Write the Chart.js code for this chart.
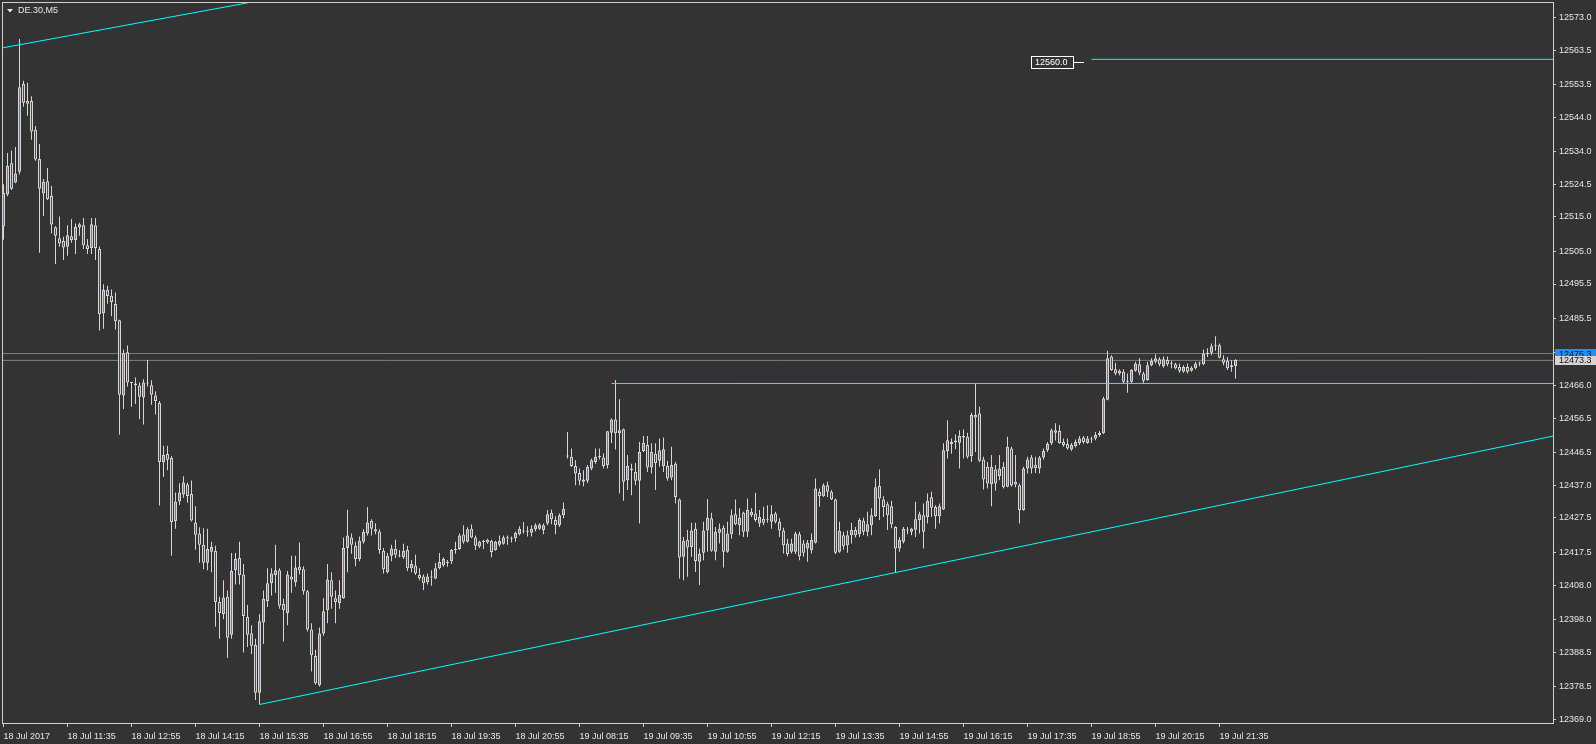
<!DOCTYPE html>
<html>
<head>
<meta charset="utf-8">
<script src="https://cdn.jsdelivr.net/npm/chart.js@4.4.1/dist/chart.umd.min.js"></script>
<style>
  html, body { margin: 0; padding: 0; background: #333333; }
  #wrap { width: 1596px; height: 744px; }
</style>
</head>
<body>
<div id="wrap"><canvas id="chart" width="1596" height="744"></canvas></div>
<script>
// DE.30 M5, 18-19 Jul 2017
const symbolName = 'DE.30,M5';

const timeLabels = ['18 Jul 2017', '18 Jul 11:35', '18 Jul 12:55', '18 Jul 14:15', '18 Jul 15:35',
  '18 Jul 16:55', '18 Jul 18:15', '18 Jul 19:35', '18 Jul 20:55', '19 Jul 08:15', '19 Jul 09:35',
  '19 Jul 10:55', '19 Jul 12:15', '19 Jul 13:35', '19 Jul 14:55', '19 Jul 16:15', '19 Jul 17:35',
  '19 Jul 18:55', '19 Jul 20:15', '19 Jul 21:35'];
const timeTickIdx = [0, 16, 32, 48, 64, 80, 96, 112, 128, 144, 160, 176, 192, 208, 224, 240, 256, 272, 288, 304];

const priceTicks = [12369.0, 12378.5, 12388.5, 12398.0, 12408.0, 12417.5, 12427.5, 12437.0, 12446.5,
  12456.5, 12466.0, 12475.5, 12485.5, 12495.5, 12505.0, 12515.0, 12524.5, 12534.0, 12544.0, 12553.5,
  12563.5, 12573.0];

const opens = [
  12512.2,12521.5,12530.6,12525.0,12528.1,12553.6,12548.7,12548.7,12540.3,12531.8,
  12521.8,12525.4,12521.1,12512.0,12508.8,12508.0,12506.3,12509.4,12508.3,12511.9,
  12512.6,12506.8,12506.0,12512.6,12505.7,12487.0,12493.8,12492.1,12489.7,12485.0,
  12463.1,12475.7,12466.9,12466.6,12466.0,12462.5,12466.6,12466.1,12463.1,12460.9,
  12443.8,12446.1,12444.9,12426.6,12432.3,12434.3,12437.2,12434.5,12426.2,12423.0,
  12419.7,12414.5,12417.7,12417.9,12403.1,12399.6,12404.6,12393.6,12412.3,12415.9,
  12411.1,12398.7,12393.9,12390.6,12376.7,12397.1,12403.4,12408.5,12410.9,12412.3,
  12402.5,12399.9,12410.5,12408.8,12413.3,12412.6,12406.2,12395.1,12387.4,12378.9,
  12393.9,12400.7,12409.4,12404.2,12402.8,12404.2,12418.8,12421.8,12419.4,12415.6,
  12420.6,12423.0,12426.6,12424.2,12423.6,12418.0,12411.7,12416.5,12418.5,12416.5,
  12416.1,12418.2,12412.9,12413.7,12410.9,12410.5,12408.8,12410.2,12409.9,12412.9,
  12413.7,12414.5,12414.9,12418.2,12418.5,12422.7,12420.6,12424.4,12421.8,12419.2,
  12420.6,12421.2,12420.9,12418.2,12419.7,12420.0,12421.6,12421.6,12421.6,12422.8,
  12423.6,12423.6,12423.2,12424.2,12424.4,12424.0,12425.9,12429.0,12426.9,12425.4,
  12428.3,12445.6,12445.3,12442.6,12440.6,12438.0,12438.3,12441.9,12443.8,12445.3,
  12445.1,12442.9,12452.3,12456.1,12452.1,12453.3,12438.5,12441.9,12440.9,12438.3,
  12447.0,12448.7,12442.2,12446.2,12444.1,12442.6,12442.6,12439.3,12443.3,12432.9,
  12416.2,12421.2,12419.1,12424.4,12414.8,12417.4,12423.9,12427.4,12417.7,12423.2,
  12424.7,12417.7,12422.8,12428.6,12425.4,12429.0,12423.5,12428.3,12428.8,12425.9,
  12427.3,12427.1,12426.4,12428.8,12426.4,12423.9,12420.1,12417.7,12417.7,12422.8,
  12420.1,12418.6,12418.1,12420.3,12435.1,12433.8,12437.0,12435.1,12432.9,12417.7,
  12422.5,12419.6,12422.5,12424.0,12422.8,12426.7,12423.5,12425.4,12428.0,12436.8,
  12432.9,12431.5,12430.9,12424.9,12418.6,12420.6,12423.9,12423.5,12424.1,12426.9,
  12428.3,12427.8,12433.5,12430.7,12428.0,12430.0,12447.0,12449.0,12449.6,12449.4,
  12450.9,12451.1,12445.5,12456.7,12457.9,12444.5,12442.4,12437.3,12441.6,12439.7,
  12442.4,12436.6,12447.7,12438.0,12437.0,12429.8,12441.9,12445.1,12443.0,12441.9,
  12445.1,12447.2,12449.2,12453.0,12452.8,12449.6,12449.0,12447.4,12448.4,12449.3,
  12450.9,12449.3,12450.3,12450.6,12451.6,12452.1,12461.9,12474.4,12470.7,12469.5,
  12470.0,12467.1,12467.1,12470.3,12472.2,12469.5,12467.6,12471.9,12472.9,12473.6,
  12471.6,12473.4,12472.4,12472.2,12471.4,12470.0,12471.4,12470.3,12471.0,12472.4,
  12472.2,12475.1,12475.5,12477.4,12477.7,12473.6,12473.2,12471.9,12471.6
];
const highs = [
  12524.5,12533.6,12534.3,12535.3,12566.7,12554.6,12554.0,12550.1,12541.4,12536.2,
  12526.0,12529.2,12524.0,12512.3,12515.1,12509.2,12512.6,12514.4,12513.1,12513.3,
  12514.7,12508.6,12514.7,12514.7,12506.4,12495.4,12495.0,12493.9,12493.0,12485.1,
  12476.4,12477.6,12467.0,12468.3,12466.9,12467.8,12473.4,12467.5,12464.3,12461.5,
  12448.5,12448.5,12445.5,12434.9,12437.6,12439.6,12437.8,12438.4,12430.9,12424.8,
  12424.5,12424.4,12420.6,12419.4,12404.6,12409.4,12406.4,12417.3,12417.3,12420.6,
  12414.1,12402.2,12396.3,12392.4,12399.5,12406.4,12412.9,12412.9,12419.7,12412.9,
  12404.0,12412.1,12416.5,12416.5,12420.4,12413.5,12406.6,12396.9,12389.2,12395.7,
  12404.2,12414.1,12411.7,12406.4,12409.4,12421.8,12429.9,12423.0,12420.6,12422.1,
  12424.2,12430.7,12427.1,12426.0,12424.2,12418.8,12417.3,12419.7,12421.2,12418.2,
  12420.0,12419.4,12415.3,12416.8,12412.9,12411.1,12411.4,12412.3,12414.4,12417.3,
  12416.1,12415.3,12418.5,12420.6,12423.0,12425.4,12424.8,12425.6,12422.4,12420.9,
  12421.2,12421.5,12421.2,12420.9,12422.4,12422.4,12422.4,12422.1,12423.6,12425.1,
  12426.3,12425.1,12425.4,12426.0,12426.0,12425.9,12429.8,12430.0,12428.0,12428.8,
  12432.0,12452.5,12447.7,12444.3,12441.9,12441.4,12442.9,12444.8,12447.7,12447.7,
  12446.3,12452.8,12456.4,12467.6,12462.0,12453.5,12445.8,12443.3,12443.5,12449.6,
  12451.3,12451.3,12449.2,12449.2,12450.6,12450.9,12444.1,12448.2,12443.8,12433.2,
  12422.0,12424.0,12426.1,12426.1,12418.6,12426.4,12433.0,12429.0,12424.9,12425.9,
  12425.4,12426.4,12430.0,12432.9,12430.3,12429.3,12433.2,12430.3,12434.8,12429.8,
  12430.8,12431.2,12431.2,12429.3,12427.4,12424.7,12421.5,12421.5,12423.5,12423.5,
  12421.1,12421.1,12423.0,12439.0,12436.1,12437.5,12438.0,12435.6,12433.2,12426.4,
  12423.5,12423.9,12426.1,12424.9,12427.4,12427.6,12429.3,12430.3,12439.0,12441.6,
  12433.8,12432.2,12432.5,12425.1,12422.0,12424.9,12424.9,12424.7,12432.2,12429.3,
  12431.7,12434.6,12435.1,12431.2,12431.7,12449.2,12455.9,12450.6,12451.8,12453.0,
  12453.2,12452.3,12458.1,12466.6,12459.8,12445.3,12443.8,12445.8,12442.9,12445.8,
  12443.8,12451.1,12448.2,12445.8,12437.5,12442.4,12445.3,12445.8,12445.3,12445.5,
  12447.7,12449.6,12453.5,12455.0,12454.5,12450.6,12450.6,12449.3,12450.3,12451.3,
  12451.3,12451.3,12451.1,12452.5,12452.8,12462.7,12476.1,12474.8,12472.6,12470.7,
  12470.7,12469.5,12470.7,12472.9,12473.9,12470.0,12472.9,12473.9,12475.1,12474.2,
  12474.4,12474.4,12473.2,12472.6,12472.4,12471.9,12472.4,12471.6,12472.9,12472.9,
  12476.5,12476.8,12478.2,12480.3,12478.2,12474.8,12474.3,12473.4,12473.6
];
const lows = [
  12508.4,12521.0,12522.8,12524.8,12527.3,12547.0,12544.4,12537.4,12531.3,12504.6,
  12515.3,12519.9,12510.2,12501.3,12506.3,12502.5,12503.7,12507.5,12504.2,12509.5,
  12505.7,12504.2,12504.2,12502.5,12482.0,12482.5,12489.8,12486.1,12482.3,12451.7,
  12459.2,12465.7,12459.8,12460.6,12456.2,12454.7,12465.7,12460.4,12457.6,12431.1,
  12439.4,12441.4,12416.5,12424.4,12431.3,12433.4,12431.9,12426.5,12418.3,12414.5,
  12412.6,12412.3,12411.7,12395.9,12392.4,12398.1,12386.8,12392.4,12408.2,12408.2,
  12388.4,12390.0,12388.0,12374.6,12373.3,12390.9,12401.6,12405.0,12405.8,12401.1,
  12391.6,12396.3,12405.8,12407.6,12411.1,12405.2,12394.5,12382.9,12379.1,12378.5,
  12393.3,12396.9,12401.1,12396.9,12401.1,12404.0,12411.7,12417.1,12413.5,12414.9,
  12420.0,12422.4,12422.4,12422.8,12417.1,12411.4,12411.4,12414.9,12415.9,12416.1,
  12415.6,12412.1,12411.7,12410.9,12409.4,12406.6,12408.2,12407.8,12409.7,12412.6,
  12413.3,12413.3,12414.1,12417.1,12418.2,12420.0,12420.4,12421.6,12418.2,12418.8,
  12418.5,12420.0,12416.1,12418.0,12419.2,12419.7,12419.7,12420.4,12420.6,12422.4,
  12423.0,12422.1,12422.1,12423.6,12424.0,12422.8,12425.4,12425.7,12422.8,12424.9,
  12427.4,12444.8,12442.3,12437.0,12437.0,12436.7,12437.7,12441.4,12443.3,12444.5,
  12441.9,12441.9,12449.3,12447.4,12434.6,12432.5,12435.6,12434.1,12437.0,12425.9,
  12446.7,12440.9,12440.4,12435.6,12442.4,12440.9,12438.3,12438.5,12431.7,12409.9,
  12409.4,12410.4,12416.2,12411.8,12408.0,12415.2,12417.7,12417.7,12415.2,12420.1,
  12413.1,12417.4,12421.5,12425.4,12422.5,12422.0,12422.0,12427.8,12426.4,12424.9,
  12425.4,12426.1,12424.4,12425.9,12422.0,12417.2,12416.4,12417.2,12417.0,12415.2,
  12416.2,12414.8,12417.2,12420.1,12430.8,12433.6,12433.6,12432.7,12417.0,12417.4,
  12418.3,12417.4,12420.1,12421.8,12422.0,12422.5,12422.2,12422.5,12427.8,12426.9,
  12427.8,12424.0,12424.5,12411.8,12417.7,12420.1,12422.8,12422.5,12422.0,12423.0,
  12418.6,12425.9,12427.8,12424.4,12425.9,12429.8,12444.8,12446.2,12447.5,12441.9,
  12444.8,12444.8,12443.8,12446.7,12443.8,12435.8,12436.1,12430.9,12435.4,12438.5,
  12436.1,12436.4,12436.6,12436.4,12425.9,12429.6,12440.4,12440.4,12440.6,12440.4,
  12444.5,12446.7,12448.7,12450.0,12449.1,12448.2,12447.4,12447.0,12448.0,12448.7,
  12449.1,12449.1,12449.3,12450.1,12451.1,12451.9,12461.7,12470.3,12469.0,12469.0,
  12466.6,12463.9,12466.6,12470.0,12469.0,12466.6,12467.4,12471.6,12472.4,12471.6,
  12471.2,12471.6,12471.0,12470.7,12469.7,12469.7,12469.5,12470.0,12470.7,12471.6,
  12471.9,12474.3,12474.8,12476.1,12473.9,12471.9,12470.5,12470.0,12468.0
];
const closes = [
  12522.0,12529.8,12523.2,12527.6,12552.7,12548.2,12547.9,12539.8,12531.7,12523.2,
  12525.2,12520.1,12512.8,12509.5,12507.3,12506.1,12509.7,12508.3,12512.1,12512.9,
  12506.8,12505.7,12512.9,12506.0,12486.7,12493.8,12492.0,12490.3,12484.7,12463.3,
  12475.4,12466.9,12466.7,12466.1,12462.7,12466.9,12466.9,12463.3,12461.5,12443.8,
  12445.8,12444.4,12426.3,12432.3,12434.9,12437.8,12433.9,12426.8,12422.6,12419.7,
  12414.5,12418.5,12419.1,12403.1,12399.9,12404.4,12392.7,12412.1,12415.6,12410.9,
  12399.0,12393.6,12390.4,12376.7,12397.5,12404.0,12408.5,12411.4,12412.3,12402.0,
  12400.7,12411.1,12409.6,12413.1,12412.3,12406.2,12395.1,12387.6,12379.5,12393.9,
  12400.4,12409.6,12404.6,12403.1,12405.2,12418.8,12422.4,12419.7,12415.6,12420.9,
  12423.4,12426.2,12424.4,12423.6,12418.2,12412.6,12416.5,12418.6,12416.8,12416.3,
  12418.0,12412.9,12414.1,12411.4,12410.0,12408.5,12410.5,12410.3,12412.9,12414.7,
  12415.6,12414.4,12418.2,12418.4,12422.4,12420.6,12424.2,12421.8,12419.4,12420.6,
  12420.5,12420.4,12417.6,12420.6,12420.9,12421.8,12421.7,12421.5,12423.2,12424.4,
  12423.7,12423.5,12424.4,12425.4,12425.6,12425.4,12428.6,12427.1,12425.4,12428.3,
  12430.2,12445.4,12442.6,12440.4,12438.3,12438.7,12442.4,12444.3,12445.3,12445.2,
  12442.6,12452.7,12456.1,12452.1,12453.0,12438.0,12442.6,12441.4,12438.3,12446.7,
  12449.4,12442.2,12446.7,12443.5,12447.2,12447.5,12439.0,12442.9,12433.6,12416.0,
  12420.9,12418.9,12423.9,12415.0,12417.0,12423.9,12427.6,12418.0,12423.5,12424.4,
  12417.7,12423.0,12428.3,12425.7,12427.6,12423.5,12429.8,12429.3,12426.9,12427.8,
  12426.1,12427.0,12428.6,12426.4,12423.9,12419.6,12417.0,12420.1,12423.0,12416.4,
  12417.4,12420.3,12421.1,12436.1,12433.8,12437.0,12435.1,12432.9,12417.4,12423.8,
  12419.3,12422.5,12424.0,12422.5,12426.9,12423.5,12425.7,12428.3,12436.4,12433.2,
  12430.7,12428.3,12425.7,12418.6,12421.1,12424.4,12424.0,12424.4,12427.1,12428.6,
  12423.5,12432.5,12430.5,12428.0,12430.9,12447.2,12450.1,12449.6,12450.0,12451.3,
  12451.3,12445.3,12457.4,12457.4,12444.1,12438.7,12437.5,12442.4,12437.5,12441.9,
  12436.4,12448.2,12437.0,12437.2,12429.8,12441.9,12444.5,12441.9,12442.0,12445.1,
  12447.0,12449.0,12453.0,12452.3,12449.3,12448.7,12447.7,12448.7,12449.6,12450.6,
  12449.6,12450.6,12450.4,12451.6,12452.3,12462.2,12473.9,12470.5,12469.5,12470.3,
  12467.1,12467.2,12470.5,12472.4,12469.7,12467.4,12471.9,12473.1,12473.9,12472.2,
  12473.6,12472.2,12472.3,12471.0,12470.3,12471.4,12470.0,12471.2,12472.4,12472.5,
  12475.3,12475.5,12477.4,12477.6,12474.1,12472.6,12471.0,12471.4,12473.4
];

// price lines and drawn objects
const askPrice = 12475.3;
const bidPrice = 12473.3;
const resistIdx = 152, resistPrice = 12466.6;
const upperIdx = 272, upperPrice = 12560.8;
const tagIdx = 270.1, tagPrice = 12560.0, tagText = '12560.0';
const riseLine = [[64, 12373.3], [387.4, 12451.3]];
const fallLine = [[-0.375, 12564.1], [61.0, 12577.2]];

const xMin = -0.375, xMax = 387.375;
const yMin = 12367.92, yMax = 12577.46;

const bg = '#333333';
const frameColor = '#cfcfcf';
const textColor = '#e6e6e6';
const candleLine = '#d6d6d6';
const bullFill = '#1e90ff';
const bearFill = '#b22222';
const cyan = '#00ffff';
const fontFamily = "'Liberation Sans', Arial, sans-serif";
const font = '9px ' + fontFamily;
const fontCfg = { family: fontFamily, size: 9 };

const bodies = opens.map((o, i) => ({ x: i, y: [o, closes[i]] }));
const wicks = opens.map((o, i) => ({ x: i, y: [lows[i], highs[i]] }));
const bodyColors = opens.map((o, i) => closes[i] >= o ? bullFill : bearFill);

const seg = (pts) => pts.map(p => ({ x: p[0], y: p[1] }));
const lineDs = (data, color, order) => ({
  type: 'line', data, borderColor: color, borderWidth: 1, pointRadius: 0,
  tension: 0, fill: false, order
});

const decor = {
  id: 'decor',
  afterDraw(chart) {
    const { ctx, chartArea: a, scales: { x, y } } = chart;
    ctx.save();
    ctx.lineWidth = 1;
    ctx.strokeStyle = frameColor;
    ctx.strokeRect(a.left + 0.5, a.top + 0.5, a.right - a.left, a.bottom - a.top);

    // symbol caption
    ctx.fillStyle = textColor;
    ctx.beginPath();
    ctx.moveTo(7, 9); ctx.lineTo(13, 9); ctx.lineTo(10, 12.5); ctx.closePath(); ctx.fill();
    ctx.font = font;
    ctx.textAlign = 'left';
    ctx.textBaseline = 'middle';
    ctx.fillText(symbolName, 18, 10.5);

    // price tag near the upper level
    const tx = Math.round(x.getPixelForValue(tagIdx));
    const ty = Math.round(y.getPixelForValue(tagPrice)) + 0.5;
    ctx.strokeStyle = '#ffffff';
    ctx.beginPath(); ctx.moveTo(tx - 10, ty); ctx.lineTo(tx, ty); ctx.stroke();
    ctx.fillStyle = bg;
    ctx.fillRect(tx - 53, ty - 6.5, 43, 13);
    ctx.strokeRect(tx - 52.5, ty - 6, 42, 12);
    ctx.fillStyle = '#ffffff';
    ctx.fillText(tagText, tx - 49, ty + 0.5);

    // ask / bid boxes on the price axis
    const boxes = [[askPrice, '#1e90ff'], [bidPrice, '#d4d4d4']];
    boxes.forEach(([p, c]) => {
      const py = y.getPixelForValue(p);
      ctx.fillStyle = c;
      ctx.fillRect(a.right + 2, Math.round(py - 4.5), 1596 - a.right - 2, 9);
      ctx.fillStyle = '#111111';
      ctx.fillText(p.toFixed(1), a.right + 6, py + 0.5);
    });
    ctx.restore();
  }
};

new Chart(document.getElementById('chart'), {
  type: 'bar',
  data: {
    datasets: [
      lineDs(seg(riseLine), cyan, 0),
      lineDs(seg(fallLine), cyan, 0),
      lineDs(seg([[resistIdx, resistPrice], [xMax, resistPrice]]), cyan, 0),
      lineDs(seg([[upperIdx, upperPrice], [xMax, upperPrice]]), cyan, 0),
      lineDs(seg([[xMin, askPrice], [xMax, askPrice]]), '#1e90ff', 3),
      lineDs(seg([[xMin, bidPrice], [xMax, bidPrice]]), '#808080', 3),
      {
        data: bodies, backgroundColor: bodyColors, borderColor: candleLine, borderWidth: 1,
        borderSkipped: false, barThickness: 3, inflateAmount: 0, minBarLength: 1,
        grouped: false, order: 1
      },
      {
        data: wicks, backgroundColor: candleLine, borderWidth: 0, barThickness: 1,
        inflateAmount: 0, grouped: false, order: 2
      }
    ]
  },
  options: {
    responsive: false,
    animation: false,
    events: [],
    layout: { padding: { left: 2, top: 2, right: 0, bottom: 0 } },
    plugins: { legend: { display: false }, tooltip: { enabled: false } },
    scales: {
      x: {
        type: 'linear', min: xMin, max: xMax, offset: false,
        grid: { offset: false, drawOnChartArea: false, drawTicks: true, tickLength: 4, tickColor: frameColor },
        border: { display: false },
        afterBuildTicks: (s) => { s.ticks = timeTickIdx.map(v => ({ value: v })); },
        afterFit: (s) => { s.height = 21; s.paddingLeft = 0; s.paddingRight = 0; },
        ticks: {
          autoSkip: false, maxRotation: 0, align: 'start', padding: 4,
          color: textColor, font: fontCfg,
          callback: (v, i) => timeLabels[i]
        }
      },
      y: {
        type: 'linear', position: 'right', min: yMin, max: yMax, beginAtZero: false,
        grid: { drawOnChartArea: false, drawTicks: true, tickLength: 3, tickColor: frameColor },
        border: { display: false },
        afterBuildTicks: (s) => { s.ticks = priceTicks.map(v => ({ value: v })); },
        afterFit: (s) => { s.width = 43; s.paddingTop = 0; s.paddingBottom = 0; },
        ticks: {
          autoSkip: false, padding: 3, color: textColor, font: fontCfg,
          callback: (v) => Number(v).toFixed(1)
        }
      }
    }
  },
  plugins: [decor]
});
</script>
</body>
</html>
